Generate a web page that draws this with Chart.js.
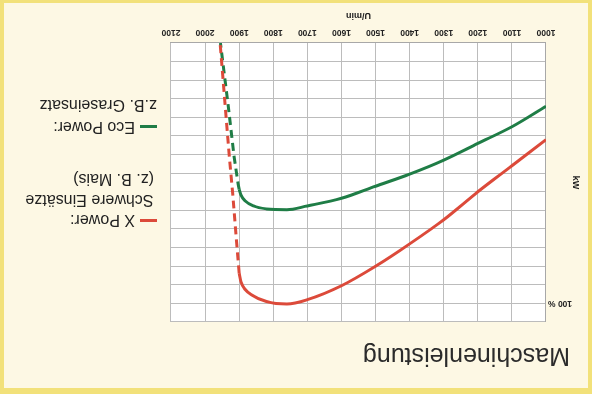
<!DOCTYPE html>
<html lang="de">
<head>
<meta charset="utf-8">
<title>Maschinenleistung</title>
<script src="https://cdn.jsdelivr.net/npm/chart.js@4.4.1/dist/chart.umd.min.js"></script>
<style>
    html, body { margin: 0; padding: 0; background: #fdf8e4; }
    #frame {
        position: relative;
        width: 592px;
        height: 394px;
        background: #fdf8e4;
        transform: rotate(180deg);
        overflow: hidden;
        font-family: "Liberation Sans", Arial, sans-serif;
        color: #222;
    }
    #box { position: absolute; left: 0; top: 0; width: 592px; height: 394px; }
    #rand {
        position: absolute;
        left: 0; top: 0; right: 0; bottom: 0;
        border-style: solid;
        border-color: #f2e17a;
        border-width: 6px 4px 3px 4px;
        pointer-events: none;
    }
    #titel { position: absolute; left: 22px; top: 25px; font-size: 25px; line-height: 25px; color: #2b2b2b; white-space: nowrap; }
    .txt { position: absolute; white-space: nowrap; font-size: 16px; line-height: 16px; color: #222; }
    .strich { position: absolute; width: 17px; height: 3px; }
</style>
</head>
<body>
<div id="frame">
    <div id="box"><canvas id="leistung"></canvas></div>
    <div id="titel">Maschinenleistung</div>

    <div class="strich" style="left:435px; top:171.5px; background:#dc4a3a;"></div>
    <div class="txt" style="left:457px; top:165.5px;">X Power:</div>
    <div class="txt" style="left:438.5px; top:185.5px;">Schwere Einsätze</div>
    <div class="txt" style="left:438px; top:207px;">(z. B. Mais)</div>

    <div class="strich" style="left:435px; top:265.5px; background:#1f7d46;"></div>
    <div class="txt" style="left:457px; top:258.5px;">Eco Power:</div>
    <div class="txt" style="left:435px; top:280.5px;">z.B. Graseinsatz</div>

    <div id="rand"></div>
</div>

<script>
    // Drehzahl-Achse (U/min)
    const rpmTicks = [1000, 1100, 1200, 1300, 1400, 1500, 1600, 1700, 1800, 1900, 2000, 2100];

    // X Power - Volllast und Abregelung
    const rpmXPower = [1000, 1100, 1200, 1300, 1400, 1500, 1600, 1700, 1760, 1820, 1863, 1883, 1895, 1900];
    const kwXPower = [5.2, 6.6, 8.0, 9.5, 10.8, 12.0, 13.05, 13.8, 14.03, 13.9, 13.55, 13.24, 12.83, 12.38];
    const rpmXPowerAbregelung = [1900, 1909, 1919, 1929, 1941, 1956];
    const kwXPowerAbregelung = [12.38, 10.4, 8.1, 6.1, 3.4, 0];

    // Eco Power - Volllast und Abregelung
    const rpmEco = [1000, 1100, 1200, 1300, 1400, 1500, 1600, 1700, 1760, 1820, 1858, 1883, 1895, 1900];
    const kwEco = [3.4, 4.5, 5.4, 6.3, 7.05, 7.7, 8.35, 8.76, 8.97, 8.92, 8.76, 8.48, 8.17, 7.87];
    const rpmEcoAbregelung = [1900, 1903, 1915, 1932, 1955];
    const kwEcoAbregelung = [7.87, 7.6, 6.1, 3.4, 0];

    // Skala kW: 15 Rasterfelder, 100 % auf Linie 14
    const kwMin = 0;
    const kwMax = 15;
    const kwHundertProzent = 14;

    const farbeRot = '#dc4a3a';
    const farbeGruen = '#1f7d46';

    function punkte(xs, ys) {
        return xs.map((x, i) => ({ x: x, y: ys[i] }));
    }

    const plotHintergrund = {
        id: 'plotHintergrund',
        beforeDraw(chart) {
            const a = chart.chartArea;
            const ctx = chart.ctx;
            ctx.save();
            ctx.fillStyle = '#ffffff';
            ctx.fillRect(a.left, a.top, a.right - a.left, a.bottom - a.top);
            ctx.restore();
        }
    };

    const achsenFont = { family: '"Liberation Sans", Arial, sans-serif', size: 8.5, weight: 'bold' };

    new Chart(document.getElementById('leistung'), {
        type: 'line',
        data: {
            datasets: [
                {
                    data: punkte(rpmXPowerAbregelung, kwXPowerAbregelung),
                    borderColor: farbeRot,
                    borderWidth: 3,
                    borderDash: [8, 5],
                    tension: 0
                },
                {
                    data: punkte(rpmXPower, kwXPower),
                    borderColor: farbeRot,
                    borderWidth: 3,
                    cubicInterpolationMode: 'monotone'
                },
                {
                    data: punkte(rpmEcoAbregelung, kwEcoAbregelung),
                    borderColor: farbeGruen,
                    borderWidth: 3,
                    borderDash: [8, 5],
                    tension: 0
                },
                {
                    data: punkte(rpmEco, kwEco),
                    borderColor: farbeGruen,
                    borderWidth: 3,
                    cubicInterpolationMode: 'monotone'
                }
            ]
        },
        options: {
            responsive: true,
            maintainAspectRatio: false,
            animation: false,
            layout: { padding: { top: 72, right: 171, left: 0, bottom: 0 } },
            elements: { point: { radius: 0 } },
            plugins: {
                legend: { display: false },
                tooltip: { enabled: false }
            },
            scales: {
                x: {
                    type: 'linear',
                    min: rpmTicks[0],
                    max: rpmTicks[rpmTicks.length - 1],
                    afterBuildTicks: s => { s.ticks = rpmTicks.map(v => ({ value: v })); },
                    afterFit: s => { s.height = 43; },
                    grid: { color: '#bcbcbc', lineWidth: 1, drawTicks: false },
                    border: { color: '#a8a8a8' },
                    ticks: {
                        padding: 6,
                        color: '#222',
                        font: achsenFont,
                        maxRotation: 0,
                        autoSkip: false,
                        callback: v => String(v)
                    },
                    title: {
                        display: true,
                        text: 'U/min',
                        color: '#222',
                        font: { family: '"Liberation Sans", Arial, sans-serif', size: 9, weight: 'bold' },
                        padding: { top: 0, bottom: 9.6 }
                    }
                },
                y: {
                    min: kwMin,
                    max: kwMax,
                    afterFit: s => { s.width = 46; },
                    grid: { color: '#bcbcbc', lineWidth: 1, drawTicks: false },
                    border: { color: '#a8a8a8' },
                    ticks: {
                        stepSize: 1,
                        padding: 2,
                        autoSkip: false,
                        color: '#222',
                        font: achsenFont,
                        callback: v => (v === kwHundertProzent ? '100 %' : '')
                    },
                    title: {
                        display: true,
                        text: 'kW',
                        color: '#222',
                        font: { family: '"Liberation Sans", Arial, sans-serif', size: 9, weight: 'bold' },
                        padding: { top: 11.6, bottom: 0 }
                    }
                }
            }
        },
        plugins: [plotHintergrund]
    });
</script>
</body>
</html>
